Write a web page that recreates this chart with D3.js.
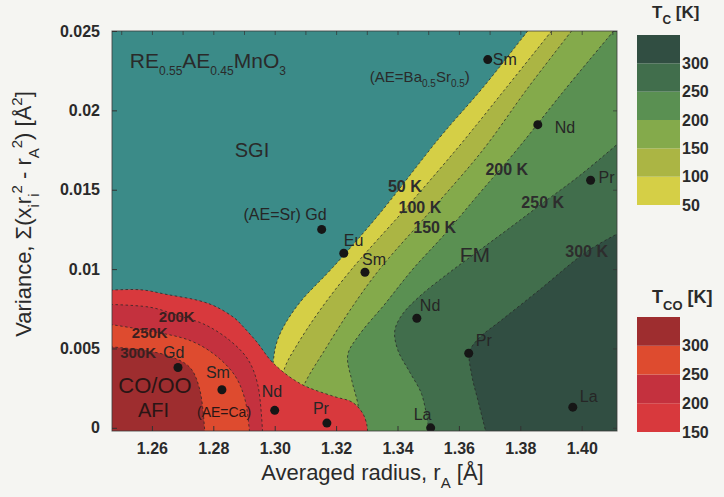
<!DOCTYPE html>
<html>
<head>
<meta charset="utf-8">
<script src="https://cdn.jsdelivr.net/npm/d3@7"></script>
<style>
  body { margin: 0; background: #f5f5f2; }
  text { font-family: "Liberation Sans", Arial, Helvetica, sans-serif; fill: #2a2a2a; }
</style>
</head>
<body>
<svg id="chart" width="724" height="497"></svg>
<script>
// iso-Tc lines of the FM phase: [rA (A), variance (A^2)]
var tc50 = [[1.3824,0.025],[1.3681,0.0215],[1.3538,0.0183],[1.3342,0.0135],[1.3189,0.0101],[1.3082,0.0079],[1.3027,0.0063],[1.3004,0.0052],[1.2994,0.0040],[1.2978,0.0018],[1.2968,-0.0005]];
var tc100 = [[1.3902,0.025],[1.3753,0.0214],[1.3603,0.0178],[1.3430,0.0139],[1.3251,0.0100],[1.3147,0.0074],[1.3072,0.0052],[1.3033,0.0038],[1.3010,0.0018],[1.2991,-0.0005]];
var tc150 = [[1.3967,0.025],[1.3824,0.0214],[1.3678,0.0175],[1.3505,0.0136],[1.3342,0.0100],[1.3245,0.0074],[1.3163,0.0049],[1.3098,0.0028],[1.3066,0.0011],[1.3043,-0.0005]];
var tc200 = [[1.4104,0.025],[1.3945,0.0213],[1.3788,0.0175],[1.3668,0.0148],[1.3554,0.0122],[1.3450,0.0100],[1.3359,0.0078],[1.3277,0.0059],[1.3238,0.0046],[1.3251,0.0030],[1.3271,0.0015],[1.3284,-0.0005]];
var tc250 = [[1.4124,0.0180],[1.3994,0.0159],[1.3876,0.0142],[1.3766,0.0126],[1.3668,0.0112],[1.3570,0.0098],[1.3473,0.0083],[1.3414,0.0071],[1.3391,0.0061],[1.3401,0.0049],[1.3440,0.0035],[1.3479,0.0021],[1.3505,-0.0005]];
var tc300 = [[1.4124,0.0123],[1.4016,0.0111],[1.3863,0.0087],[1.3733,0.0067],[1.3668,0.0057],[1.3635,0.0048],[1.3642,0.0033],[1.3661,0.0018],[1.3691,-0.0005]];

// iso-Tco lines of the CO/OO phase
var co150 = [[1.2400,0.0086],[1.2561,0.0087],[1.2649,0.0084],[1.2756,0.0080],[1.2812,0.0076],[1.2870,0.0069],[1.2896,0.0064],[1.2942,0.0054],[1.2994,0.0041],[1.3082,0.0028],[1.3189,0.0020],[1.3254,0.0016],[1.3287,0.0009],[1.3300,0.0002],[1.3303,-0.0005]];
var co200 = [[1.2400,0.0078],[1.2593,0.0076],[1.2681,0.0071],[1.2773,0.0065],[1.2854,0.0055],[1.2913,0.0043],[1.2945,0.0027],[1.2961,-0.0005]];
var co250 = [[1.2400,0.0067],[1.2593,0.0061],[1.2724,0.0055],[1.2805,0.0046],[1.2870,0.0033],[1.2903,0.0018],[1.2919,-0.0005]];
var co300 = [[1.2400,0.0052],[1.2567,0.0049],[1.2659,0.0045],[1.2724,0.0038],[1.2756,0.0024],[1.2773,-0.0005]];

var tcLevels = [50, 100, 150, 200, 250, 300];
var tcLines = [tc50, tc100, tc150, tc200, tc250, tc300];
var coLevels = [150, 200, 250, 300];
var coLines = [co150, co200, co250, co300];

// samples: [RE, rA, variance]
var seriesBaSr = [["Sm",1.3694,0.0232],["Nd",1.3857,0.0191],["Pr",1.4029,0.0156],["La",1.3971,0.0013]];
var seriesSr = [["Gd",1.3153,0.0125],["Eu",1.3225,0.0110],["Sm",1.3294,0.0098],["Nd",1.3463,0.0069],["Pr",1.3632,0.0047],["La",1.3508,0.0000]];
var seriesCa = [["Gd",1.2685,0.0038],["Sm",1.2828,0.0024],["Nd",1.3000,0.0011],["Pr",1.3170,0.0003]];

// contour labels: [text, rA, variance]
var tcLabels = [["50 K",1.3424,0.0152],["100 K",1.3473,0.0139],["150 K",1.3521,0.0126],["200 K",1.3756,0.0163],["250 K",1.3873,0.0142],["300 K",1.4016,0.0111]];
var coLabels = [["200K",1.2681,0.0070],["250K",1.2593,0.0060],["300K",1.2555,0.0047]];

var xTicks = [1.26, 1.28, 1.30, 1.32, 1.34, 1.36, 1.38, 1.40];
var yTicks = [0, 0.005, 0.01, 0.015, 0.02, 0.025];

var teal = "#3b8b88";
var tcColors = ["#d5cf46", "#abb544", "#84aa4b", "#5a9052", "#416e4c", "#314e42"];
var coColors = ["#d8393d", "#c4313e", "#de4b2f", "#9e2d2f"];

var svg = d3.select("#chart");

var x = d3.scaleLinear().domain([1.247, 1.4115]).range([112, 617]);
var y = d3.scaleLinear().domain([-0.0002, 0.025]).range([431, 31]);

var pL = x(1.247), pR = x(1.4115), pT = y(0.025), pB = y(-0.0002);

svg.append("clipPath").attr("id", "plotclip")
  .append("rect").attr("x", pL).attr("y", pT).attr("width", pR - pL).attr("height", pB - pT);

var plot = svg.append("g").attr("clip-path", "url(#plotclip)");

plot.append("rect")
  .attr("x", pL).attr("y", pT).attr("width", pR - pL).attr("height", pB - pT)
  .attr("fill", teal);

var curve = d3.line().x(d => x(d[0])).y(d => y(d[1])).curve(d3.curveCatmullRom.alpha(0.5));

// close a contour towards the far side (right for FM, left for CO)
function region(line, farX) {
  var first = line[0];
  return curve(line) +
    "L" + x(farX) + "," + y(-0.003) +
    "L" + x(farX) + "," + y(0.03) +
    "L" + x(first[0]) + "," + y(0.03) + "Z";
}

function dashed(line) {
  plot.append("path").attr("d", curve(line))
    .attr("fill", "none").attr("stroke", "#262626").attr("stroke-width", 1)
    .attr("stroke-dasharray", "2.5,2.5").attr("opacity", 0.75);
}

// FM bands
tcLines.forEach((line, i) => {
  plot.append("path").attr("d", region(line, 1.5)).attr("fill", tcColors[i]);
});
tcLines.forEach(dashed);

// CO/OO bands on top
coLines.forEach((line, i) => {
  plot.append("path").attr("d", region(line, 1.2)).attr("fill", coColors[i]);
});
coLines.forEach(dashed);

// contour labels
plot.selectAll(".tclab").data(tcLabels).enter().append("text")
  .attr("class", "tclab")
  .attr("x", d => x(d[1])).attr("y", d => y(d[2]))
  .attr("text-anchor", "middle").attr("dy", "0.35em")
  .style("font-size", "16px").style("font-weight", "bold").style("fill", "#2d2d2d")
  .text(d => d[0]);

plot.selectAll(".colab").data(coLabels).enter().append("text")
  .attr("class", "colab")
  .attr("x", d => x(d[1])).attr("y", d => y(d[2]))
  .attr("text-anchor", "middle").attr("dy", "0.35em")
  .style("font-size", "15px").style("font-weight", "bold").style("fill", "#3a2020")
  .text(d => d[0]);

// sample dots and labels (label offsets in px)
var labelOffsets = {
  "BaSr-Sm": [5, 5], "BaSr-Nd": [17, 8], "BaSr-Pr": [8, 3], "BaSr-La": [7, -5],
  "Sr-Gd": [5, -9], "Sr-Eu": [0, -7], "Sr-Sm": [-3, -7], "Sr-Nd": [3, -7], "Sr-Pr": [7, -7], "Sr-La": [-17, -8],
  "Ca-Gd": [-15, -10], "Ca-Sm": [-16, -12], "Ca-Nd": [-13, -13], "Ca-Pr": [-14, -9]
};

[["BaSr", seriesBaSr], ["Sr", seriesSr], ["Ca", seriesCa]].forEach(s => {
  var key = s[0];
  plot.selectAll(".dot-" + key).data(s[1]).enter().append("circle")
    .attr("class", "dot-" + key)
    .attr("cx", d => x(d[1])).attr("cy", d => y(d[2])).attr("r", 4.5)
    .attr("fill", "#161616");
  plot.selectAll(".lab-" + key).data(s[1]).enter().append("text")
    .attr("class", "lab-" + key)
    .attr("x", d => x(d[1]) + labelOffsets[key + "-" + d[0]][0])
    .attr("y", d => y(d[2]) + labelOffsets[key + "-" + d[0]][1])
    .attr("text-anchor", d => key === "Sr" && d[0] === "Gd" ? "end" : "start")
    .style("font-size", "16px").style("fill", "#262626")
    .text(d => key === "Sr" && d[0] === "Gd" ? "(AE=Sr) Gd" : d[0]);
});

function rich(t, parts, size, small) {
  var shift = 0;
  parts.forEach(p => {
    var target = p[1] === "sub" ? size * 0.38 : p[1] === "sup" ? -size * 0.42 : 0;
    t.append("tspan").attr("dy", target - shift)
      .style("font-size", (p[1] ? small : size) + "px").text(p[0]);
    shift = target;
  });
}

// region annotations
var ann = plot.append("g");
ann.append("text").attr("x", x(1.2926)).attr("y", y(0.0175)).attr("dy", "0.35em").attr("text-anchor", "middle")
  .style("font-size", "20px").text("SGI");
ann.append("text").attr("x", x(1.3652)).attr("y", y(0.0109)).attr("dy", "0.35em").attr("text-anchor", "middle")
  .style("font-size", "21px").text("FM");
ann.append("text").attr("x", x(1.261)).attr("y", y(0.0027)).attr("dy", "0.35em").attr("text-anchor", "middle")
  .style("font-size", "22px").style("fill", "#2a1515").text("CO/OO");
ann.append("text").attr("x", x(1.2605)).attr("y", y(0.0011)).attr("dy", "0.35em").attr("text-anchor", "middle")
  .style("font-size", "20px").style("fill", "#2a1515").text("AFI");
ann.append("text").attr("x", x(1.2835)).attr("y", y(0.0010)).attr("dy", "0.35em").attr("text-anchor", "middle")
  .style("font-size", "14px").style("fill", "#2a1515").text("(AE=Ca)");

var formula = ann.append("text").attr("x", x(1.2528)).attr("y", y(0.0227));
rich(formula, [["RE"], ["0.55", "sub"], ["AE"], ["0.45", "sub"], ["MnO"], ["3", "sub"]], 21, 12);

var baSr = ann.append("text").attr("x", x(1.3310)).attr("y", y(0.0218));
rich(baSr, [["(AE=Ba"], ["0.5", "sub"], ["Sr"], ["0.5", "sub"], [")"]], 15, 10);

// frame
svg.append("rect")
  .attr("x", pL).attr("y", pT).attr("width", pR - pL).attr("height", pB - pT)
  .attr("fill", "none").attr("stroke", "#3a3a3a").attr("stroke-width", 1).attr("opacity", 0.8);

// axes
var xAxis = d3.axisBottom(x).tickValues(xTicks).tickFormat(d3.format(".2f"))
  .tickSizeInner(-5).tickSizeOuter(0).tickPadding(12);
var gx = svg.append("g").attr("transform", "translate(0," + pB + ")").call(xAxis);
gx.select(".domain").remove();
gx.selectAll("text").style("font-size", "16px").style("font-weight", "bold");
gx.selectAll("line").attr("stroke", "#333");

var yAxis = d3.axisLeft(y).tickValues(yTicks).tickFormat(d => d === 0 ? "0" : String(d))
  .tickSizeInner(-5).tickSizeOuter(0).tickPadding(12);
var gy = svg.append("g").attr("transform", "translate(" + pL + ",0)").call(yAxis);
gy.select(".domain").remove();
gy.selectAll("text").style("font-size", "16px").style("font-weight", "bold");
gy.selectAll("line").attr("stroke", "#333");

var gt = svg.append("g").attr("transform", "translate(0," + pT + ")")
  .call(d3.axisTop(x).tickValues(d3.range(1.25, 1.411, 0.01)).tickFormat("").tickSizeInner(-4).tickSizeOuter(0));
gt.select(".domain").remove();
gt.selectAll("line").attr("stroke", "#333").attr("opacity", 0.7);
var gr = svg.append("g").attr("transform", "translate(" + pR + ",0)")
  .call(d3.axisRight(y).tickValues(yTicks).tickFormat("").tickSizeInner(-4).tickSizeOuter(0));
gr.select(".domain").remove();
gr.selectAll("line").attr("stroke", "#333").attr("opacity", 0.7);

// axis titles
var xt = svg.append("text").attr("x", (pL + pR) / 2 + 8).attr("y", 480).attr("text-anchor", "middle");
rich(xt, [["Averaged radius, r"], ["A", "sub"], [" [Å]"]], 22, 15);

var yt = svg.append("text").attr("transform", "translate(31,214) rotate(-90)").attr("text-anchor", "middle");
rich(yt, [["Variance, Σ(x"], ["i", "sub"], ["r"], ["i", "sub"], ["2", "sup"], [" - r"], ["A", "sub"], ["2", "sup"], [") [Å"], ["2", "sup"], ["]"]], 22, 15);

// colour bars
var cbTc = d3.scaleLinear().domain([50, 350]).range([205, 35]);
var cbCo = d3.scaleLinear().domain([150, 350]).range([432, 317]);
var cbx = 637, cbw = 43;

svg.selectAll(".cbtc").data(tcLevels).enter().append("rect")
  .attr("x", cbx).attr("width", cbw)
  .attr("y", d => cbTc(d + 50)).attr("height", d => cbTc(d) - cbTc(d + 50))
  .attr("fill", (d, i) => tcColors[i]);
svg.selectAll(".cbtcl").data(tcLevels).enter().append("text")
  .attr("x", cbx + cbw + 2).attr("y", d => cbTc(d)).attr("dy", "0.35em")
  .style("font-size", "16px").style("font-weight", "bold").text(d => d);

svg.selectAll(".cbco").data(coLevels).enter().append("rect")
  .attr("x", cbx).attr("width", cbw)
  .attr("y", d => cbCo(d + 50)).attr("height", d => cbCo(d) - cbCo(d + 50))
  .attr("fill", (d, i) => coColors[i]);
svg.selectAll(".cbcol").data(coLevels).enter().append("text")
  .attr("x", cbx + cbw + 2).attr("y", d => cbCo(d)).attr("dy", "0.35em")
  .style("font-size", "16px").style("font-weight", "bold").text(d => d);

var t1 = svg.append("text").attr("x", 652).attr("y", 18).style("font-weight", "bold");
rich(t1, [["T"], ["C", "sub"], [" [K]"]], 17, 12);
var t2 = svg.append("text").attr("x", 652).attr("y", 303).style("font-weight", "bold");
rich(t2, [["T"], ["CO", "sub"], [" [K]"]], 18, 13);
</script>
</body>
</html>
